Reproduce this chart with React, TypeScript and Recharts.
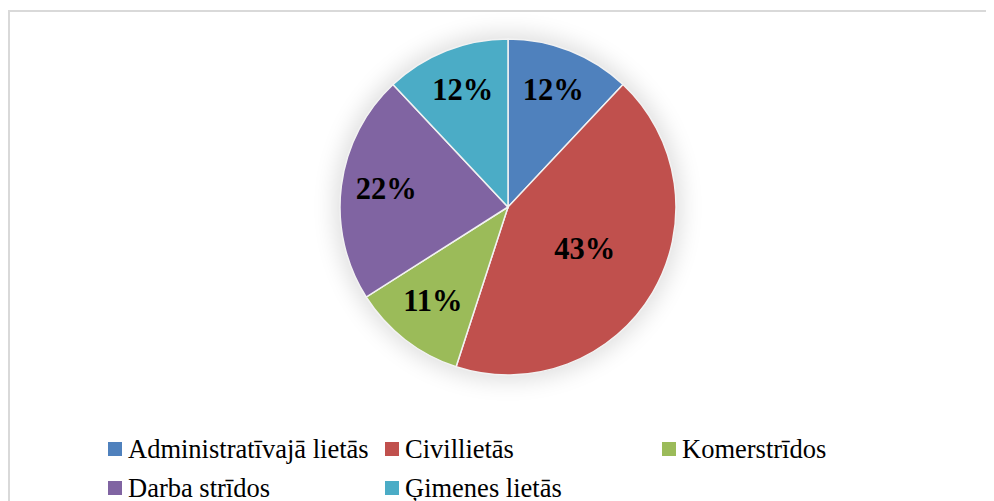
import { Legend, Pie, PieChart, Cell } from "recharts";

const categories = [
  "Administratīvajā lietās",
  "Civillietās",
  "Komerstrīdos",
  "Darba strīdos",
  "Ģimenes lietās",
];
const shares = [12, 43, 11, 22, 12];
const colors = ["#4F81BD", "#C0504D", "#9BBB59", "#8064A2", "#4BACC6"];

const data = categories.map((name, i) => ({ name, value: shares[i] }));

const RAD = Math.PI / 180;
const FONT = "'Liberation Serif', 'Times New Roman', serif";

const renderLabel = (props: any) => {
  const { cx, cy, midAngle, outerRadius, percent, value } = props;
  // big slice gets its label pulled in toward the centre, like Excel's best fit
  const r = outerRadius * (percent > 0.3 ? 0.53 : 0.73);
  const x = cx + r * Math.cos(-midAngle * RAD);
  const y = cy + r * Math.sin(-midAngle * RAD) - 3;
  return (
    <text
      x={x}
      y={y}
      fill="#000"
      textAnchor="middle"
      dominantBaseline="central"
      fontFamily={FONT}
      fontWeight="bold"
      fontSize={30.5}
    >
      {value}%
    </text>
  );
};

const renderLegend = () => (
  <div style={{ display: "flex", flexWrap: "wrap", width: 831, fontFamily: FONT, fontSize: 26.5, color: "#000" }}>
    {data.map((d, i) => (
      <div key={d.name} style={{ width: 277, height: 39, display: "flex", alignItems: "center" }}>
        <span style={{ width: 14, height: 14, background: colors[i], marginRight: 6, flexShrink: 0 }} />
        <span style={{ lineHeight: "26px" }}>{d.name}</span>
      </div>
    ))}
  </div>
);

export default function App() {
  return (
    <div
      style={{
        position: "relative",
        marginTop: 2,
        width: 986,
        height: 491,
        boxSizing: "border-box",
        borderLeft: "2px solid #d9d9d9",
        borderTop: "2px solid #d9d9d9",
        background: "#fff",
        overflow: "hidden",
      }}
    >
      <div
        style={{
          position: "absolute",
          left: 330,
          top: 27,
          width: 336,
          height: 336,
          borderRadius: "50%",
          boxShadow: "0 0 22px 6px rgba(0,0,0,0.13)",
        }}
      />
      <div style={{ position: "absolute", left: 0, top: 0 }}>
        <PieChart width={984} height={489} margin={{ top: 0, right: 0, bottom: 0, left: 0 }}>
          <Pie
            data={data}
            dataKey="value"
            nameKey="name"
            cx={498}
            cy={195}
            outerRadius={168}
            startAngle={90}
            endAngle={-270}
            stroke="#f2f2f2"
            strokeWidth={1.5}
            label={renderLabel}
            labelLine={false}
            isAnimationActive={false}
          >
            {data.map((d, i) => (
              <Cell key={d.name} fill={colors[i]} />
            ))}
          </Pie>
          <Legend content={renderLegend} wrapperStyle={{ left: 98, top: 417, width: 840 }} />
        </PieChart>
      </div>
    </div>
  );
}
